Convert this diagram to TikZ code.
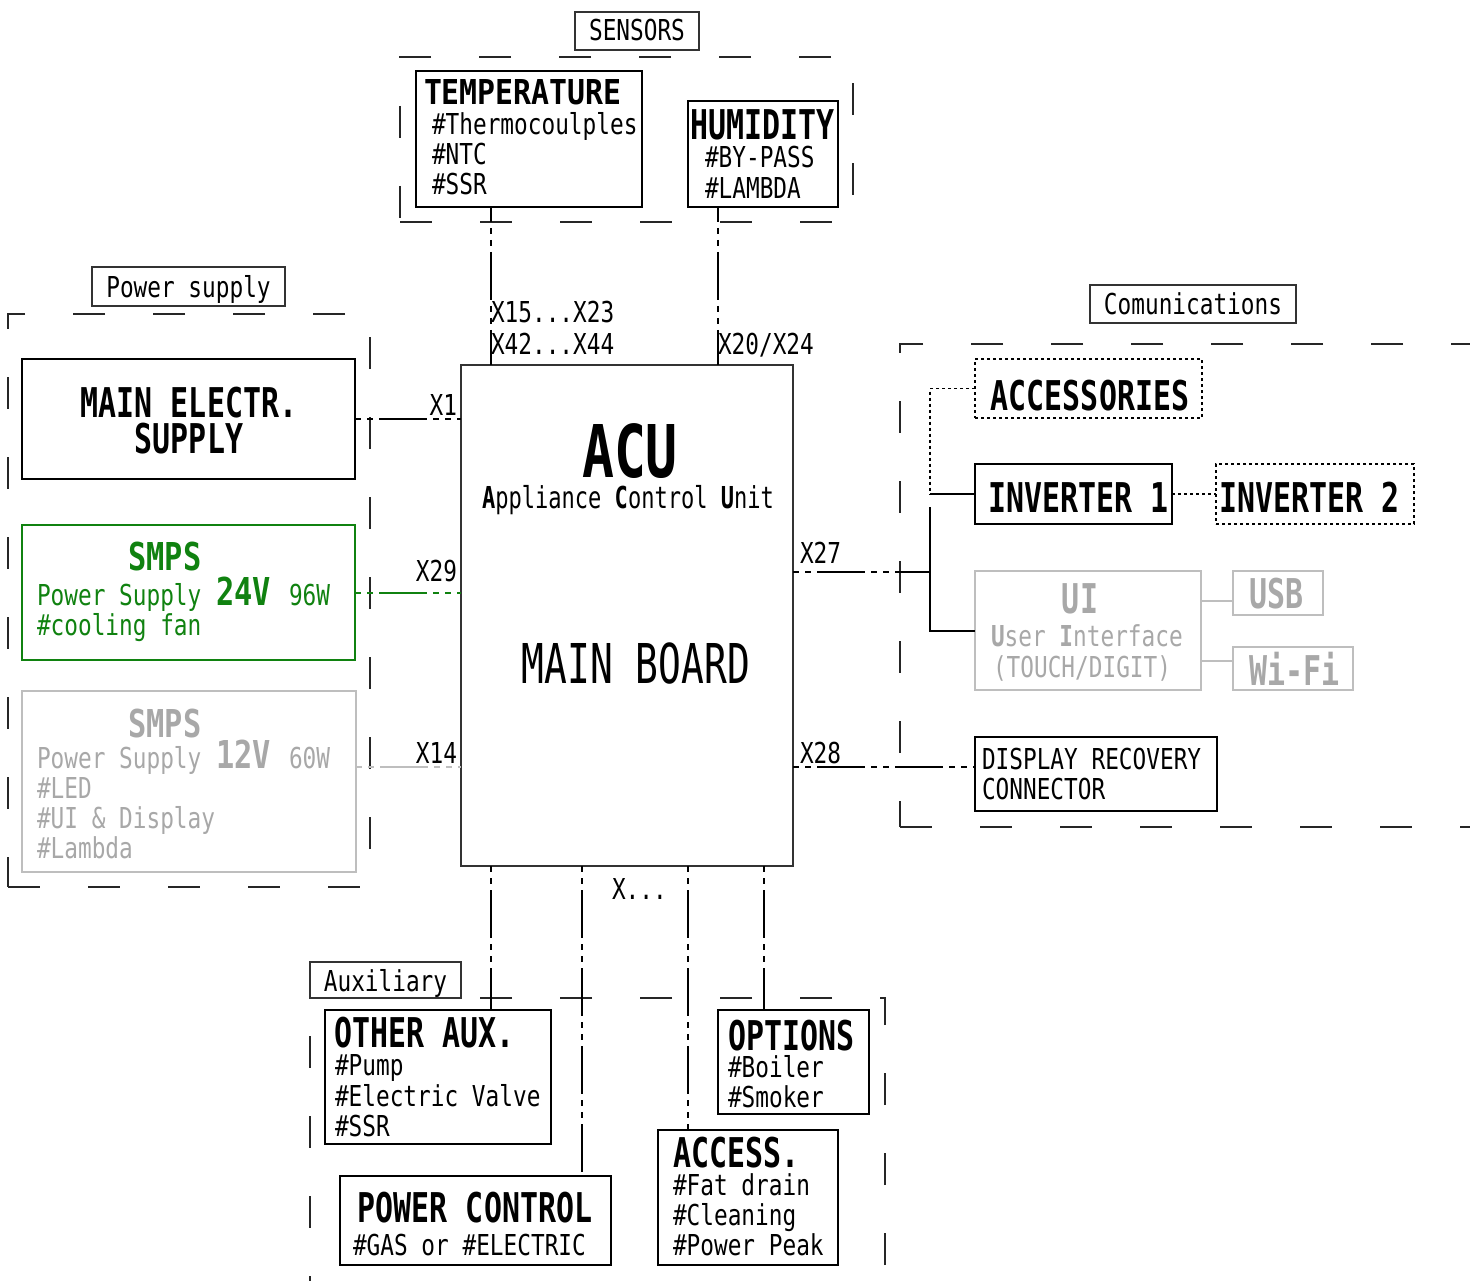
\documentclass[tikz,border=0pt]{standalone}
\usepackage{fontspec}
\newfontfamily\fr[FakeStretch=0.79]{DejaVu Sans Mono}
\newfontfamily\fb[FakeStretch=0.73]{DejaVu Sans Mono}
\newfontfamily\ft[FakeStretch=0.87]{DejaVu Sans Mono}
\newfontfamily\fm[FakeStretch=0.69]{DejaVu Sans Mono}
\newcommand\RG{\fr\fontsize{28.8}{30}\selectfont}
\newcommand\TT{\fb\bfseries\fontsize{41}{44}\selectfont}
\newcommand\SM{\fr\bfseries\fontsize{38.4}{40}\selectfont}
\definecolor{grn}{RGB}{16,130,16}
\definecolor{gtx}{RGB}{168,168,168}
\definecolor{gbd}{RGB}{190,190,190}
\newcommand\bx[6]{\node[#2, minimum width={(#5-#3)*1pt}, minimum height={(#6-#4)*1pt}] (#1) at ({(#3+#5)/2},{(#4+#6)/2}) {};}
\tikzset{
  every node/.style={inner sep=0pt, outer sep=0pt},
  box/.style={draw=black, line width=1.5pt, rectangle},
  dotbox/.style={draw=black, line width=1.5pt, dash pattern=on 3pt off 3pt},
  gbox/.style={draw=gbd, line width=1.5pt},
  grnbox/.style={draw=grn, line width=1.5pt},
  grp/.style={draw=black!85, line width=1.3pt, dash pattern=on 32pt off 48pt},
  lbl/.style={draw=black!80, line width=1.2pt},
  conn/.style={line width=2pt, dash pattern=on 48pt off 6pt on 6pt off 6pt on 6pt off 6pt, dash phase=54pt},
  connv/.style={conn, dash phase=33pt},
  dotln/.style={line width=1.5pt, dash pattern=on 3pt off 3pt},
  solid2/.style={line width=2pt},
  txt/.style={anchor=base west, font=\RG},
  ctxt/.style={anchor=base, font=\RG},
  ttl/.style={anchor=base west, font=\TT},
  cttl/.style={anchor=base, font=\TT},
}
\begin{document}
\begin{tikzpicture}[x=1pt,y=-1pt]
\clip (0,0) rectangle (1470,1281);
\fill[white] (0,0) rectangle (1470,1281);
% groups
\bx{gsens}{grp}{400}{57}{853}{222}
\bx{gpow}{grp}{8}{314}{370}{887}
\bx{gcom}{grp}{900}{344}{1550}{827}
\bx{gaux}{grp}{310}{998}{885}{1330}
% group labels
\bx{lsens}{lbl}{575}{12}{699}{50}
\node[ctxt] (tsens) at (637,41) {SENSORS};
\bx{lpow}{lbl}{92}{267}{285}{306}
\node[ctxt] (tpow) at (188.5,298) {Power supply};
\bx{lcom}{lbl}{1090}{285}{1296}{323}
\node[ctxt] (tcom) at (1193,315) {Comunications};
\bx{laux}{lbl,fill=white}{310}{962}{461}{998}
\node[ctxt] (taux) at (385.5,991) {Auxiliary};
% sensors
\bx{temp}{box}{416}{71}{642}{207}
\node[anchor=base west, font=\ft\bfseries\fontsize{34.3}{36}\selectfont] (ttemp) at (424,105) {TEMPERATURE};
\node[txt] (t1) at (432,135) {\#Thermocoulples};
\node[txt] (t2) at (432,165) {\#NTC};
\node[txt] (t3) at (432,195) {\#SSR};
\bx{hum}{box}{688}{101}{838}{207}
\node[ttl] (thum) at (690,140) {HUMIDITY};
\node[txt] (h1) at (705,168) {\#BY-PASS};
\node[txt] (h2) at (705,199) {\#LAMBDA};
% power
\bx{mains}{box}{22}{359}{355}{479}
\node[cttl] (tm1) at (189,417) {MAIN ELECTR.};
\node[cttl] (tm2) at (189,453) {SUPPLY};
\bx{smpsa}{grnbox}{22}{525}{355}{660}
\node[anchor=base, font=\SM, text=grn] (sa0) at (165,570) {SMPS};
\node[txt, text=grn] (sa1) at (37,605) {Power Supply};
\node[anchor=base west, font=\SM, text=grn] (sa2) at (216,605) {24V};
\node[txt, text=grn] (sa3) at (289,605) {96W};
\node[txt, text=grn] (sa4) at (37,635) {\#cooling fan};
\bx{smpsb}{gbox}{22}{691}{356}{872}
\node[anchor=base, font=\SM, text=gtx] (sb0) at (165,737) {SMPS};
\node[txt, text=gtx] (sb1) at (37,768) {Power Supply};
\node[anchor=base west, font=\SM, text=gtx] (sb2) at (216,768) {12V};
\node[txt, text=gtx] (sb3) at (289,768) {60W};
\node[txt, text=gtx] (sb4) at (37,798) {\#LED};
\node[txt, text=gtx] (sb5) at (37,828) {\#UI \& Display};
\node[txt, text=gtx] (sb6) at (37,858) {\#Lambda};
% ACU
\bx{acu}{draw=black!80, line width=2pt}{461}{365}{793}{866}
\node[anchor=base, font=\fb\bfseries\fontsize{72.7}{76}\selectfont] (tacu) at (630,477) {ACU};
\node[anchor=base, font=\fb\fontsize{30.2}{32}\selectfont] (tacu2) at (628,508) {\textbf{A}ppliance \textbf{C}ontrol \textbf{U}nit};
\node[anchor=base, font=\fm\fontsize{54.9}{58}\selectfont] (tmb) at (636,683) {MAIN BOARD};
% connector labels
\node[anchor=base east, font=\RG] (lx1) at (457,415) {X1};
\node[anchor=base east, font=\RG] (lx29) at (457,581) {X29};
\node[anchor=base east, font=\RG] (lx14) at (457,763) {X14};
\node[txt] (lx15) at (491,323) {X15...X23};
\node[txt] (lx42) at (491,354) {X42...X44};
\node[txt] (lx20) at (718,354) {X20/X24};
\node[txt] (lx27) at (800,563) {X27};
\node[txt] (lx28) at (800,763) {X28};
\node[txt] (lxd) at (612,899) {X...};
% communications
\bx{acc}{dotbox}{975}{359}{1202}{418}
\node[cttl] (tacc) at (1090,410) {ACCESSORIES};
\bx{inva}{box}{975}{464}{1172}{524}
\node[ttl] (tinva) at (988,512) {INVERTER 1};
\bx{invb}{dotbox}{1216}{464}{1414}{524}
\node[ttl] (tinvb) at (1219,512) {INVERTER 2};
\bx{ui}{gbox}{975}{571}{1201}{690}
\node[cttl, text=gtx] (tui) at (1080,613) {UI};
\node[txt, text=gtx] (tui1) at (991,646) {\textbf{U}ser \textbf{I}nterface};
\node[txt, text=gtx] (tui2) at (993,677) {(TOUCH/DIGIT)};
\bx{usb}{gbox}{1233}{571}{1323}{615}
\node[ttl, text=gtx] (tusb) at (1249,608) {USB};
\bx{wifi}{gbox}{1233}{647}{1353}{690}
\node[ttl, text=gtx] (twifi) at (1249,685) {Wi-Fi};
\bx{disp}{box}{975}{737}{1217}{811}
\node[txt] (td1) at (982,769) {DISPLAY RECOVERY};
\node[txt] (td2) at (982,799) {CONNECTOR};
% auxiliary
\bx{oaux}{box}{325}{1010}{551}{1144}
\node[ttl] (to0) at (334,1047) {OTHER AUX.};
\node[txt] (to1) at (335,1075) {\#Pump};
\node[txt] (to2) at (335,1106) {\#Electric Valve};
\node[txt] (to3) at (335,1136) {\#SSR};
\bx{pwc}{box}{340}{1176}{611}{1265}
\node[cttl] (tp0) at (475,1222) {POWER CONTROL};
\node[txt] (tp1) at (353,1255) {\#GAS or \#ELECTRIC};
\bx{opt}{box}{718}{1010}{869}{1114}
\node[ttl] (top0) at (728,1050) {OPTIONS};
\node[txt] (top1) at (728,1077) {\#Boiler};
\node[txt] (top2) at (728,1107) {\#Smoker};
\bx{accs}{box}{658}{1130}{838}{1265}
\node[ttl] (tac0) at (673,1167) {ACCESS.};
\node[txt] (tac1) at (673,1195) {\#Fat drain};
\node[txt] (tac2) at (673,1225) {\#Cleaning};
\node[txt] (tac3) at (673,1255) {\#Power Peak};
% connectors
\coordinate (ct) at ([xshift=75pt]temp.south west);
\draw[connv] (ct) -- (ct |- acu.north);
\coordinate (ch) at ([xshift=30pt]hum.south west);
\draw[connv] (ch) -- (ch |- acu.north);
\draw[conn] (mains.east) -- (mains.east -| acu.west);
\draw[conn, draw=grn] (smpsa.east) -- (smpsa.east -| acu.west);
\coordinate (cs) at ([yshift=-76pt]smpsb.north east);
\draw[conn, draw=gbd] (cs) -- (cs -| acu.west);
\coordinate (bus) at (930,389);
\coordinate (busm) at (930,507);
\draw[dotln] (acc.west) -- (acc.west -| bus) -- (inva.west -| bus);
\draw[solid2] (inva.west -| bus) -- (inva.west);
\draw[solid2] (busm) -- (ui.west -| bus) -- (ui.west);
\coordinate (c27) at ([yshift=-207pt]acu.north east);
\draw[conn] (c27) -- (c27 -| bus);
\coordinate (c28) at ([yshift=-402pt]acu.north east);
\draw[conn] (c28) -- (c28 -| disp.west);
\draw[dotln, line width=1.2pt] (inva.east) -- (invb.west);
\coordinate (cu1) at ([yshift=-30pt]ui.north east);
\draw[draw=gbd, line width=1.5pt] (cu1) -- (cu1 -| usb.west);
\coordinate (cu2) at ([yshift=-90pt]ui.north east);
\draw[draw=gbd, line width=1.5pt] (cu2) -- (cu2 -| wifi.west);
\coordinate (b1) at ([xshift=30pt]acu.south west);
\draw[conn] (b1) -- (b1 |- oaux.north);
\coordinate (b2) at ([xshift=121pt]acu.south west);
\draw[conn] (b2) -- (b2 |- pwc.north);
\coordinate (b3) at ([xshift=227pt]acu.south west);
\draw[conn] (b3) -- (b3 |- accs.north);
\coordinate (b4) at ([xshift=303pt]acu.south west);
\draw[conn] (b4) -- (b4 |- opt.north);
\end{tikzpicture}
\end{document}
